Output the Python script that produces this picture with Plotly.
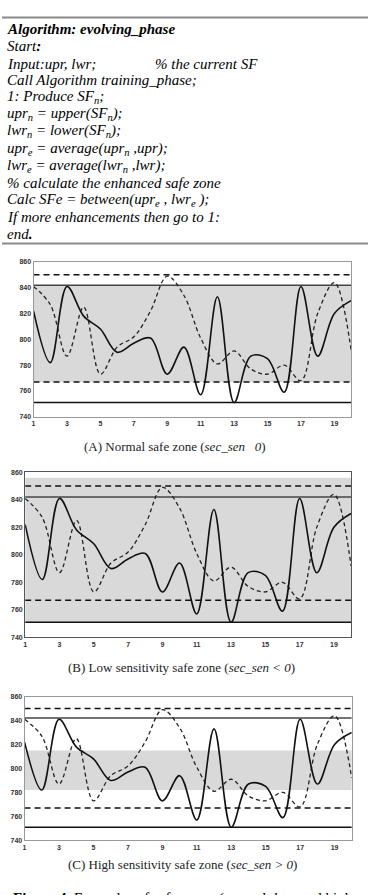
import plotly.graph_objects as go

# ---------------- data ----------------
x_vals = list(range(1, 21))
solid_series = [822, 782, 841, 818, 808, 790, 797, 801, 773, 794,
                757, 833, 751, 787, 785, 759, 841, 787, 820, 830]
dashed_series = [841, 827, 787, 825, 773, 794, 802, 822, 849, 834,
                 801, 781, 791, 777, 773, 780, 768, 820, 844, 792]
upper_solid = 842
lower_solid = 751
upper_dashed = 850
lower_dashed = 767
bands = [(767, 842), (751, 856), (782, 815)]
y_ticks = [740, 760, 780, 800, 820, 840, 860]
x_ticks = [1, 3, 5, 7, 9, 11, 13, 15, 17, 19]
captions = ["(A) Normal safe zone (<i>sec_sen \u00a0 0</i>)",
            "(B) Low sensitivity safe zone (<i>sec_sen &lt; 0</i>)",
            "(C) High sensitivity safe zone (<i>sec_sen &gt; 0</i>)"]
algo_lines = [
    "<b>Algorithm: evolving_phase</b>",
    "Start<b>:</b>",
    "Input:upr, lwr;",
    "Call Algorithm training_phase;",
    "1: Produce SF<sub>n</sub>;",
    "upr<sub>n</sub> = upper(SF<sub>n</sub>);",
    "lwr<sub>n</sub> = lower(SF<sub>n</sub>);",
    "upr<sub>e</sub> = average(upr<sub>n</sub> ,upr);",
    "lwr<sub>e</sub> = average(lwr<sub>n</sub> ,lwr);",
    "% calculate the enhanced safe zone",
    "Calc SFe = between(upr<sub>e</sub> , lwr<sub>e</sub> );",
    "If more enhancements then go to 1:",
    "end<b>.</b>",
]
algo_comment = "% the current SF"
fig_caption = "<b>Figure 4.</b> Examples of safe zones (normal, low and high"

SERIF = "Liberation Serif, Times New Roman, serif"
W, H = 368, 895
def px(x): return x / W
def py(y): return 1 - y / H

# plot boxes in pixels: left, right, top, bottom
boxes = [(31.7, 351, 260, 416), (23.3, 351, 472, 638.3), (22.7, 351.7, 698, 843)]
frame_colors = ["#999999", "#555555", "#999999"]
caption_pos = [(174, 446), (180, 669), (181, 867)]

fig = go.Figure()
layout = dict(width=W, height=H, margin=dict(l=0, r=0, t=0, b=0),
              paper_bgcolor="white", plot_bgcolor="white", showlegend=False)
shapes = []
annotations = []
tick_font = dict(family="Liberation Sans, Arial, sans-serif", size=7, color="#333333", weight="bold")

for i, (l, r, t, b) in enumerate(boxes):
    xa = "x" if i == 0 else f"x{i+1}"
    ya = "y" if i == 0 else f"y{i+1}"
    xk = "xaxis" if i == 0 else f"xaxis{i+1}"
    yk = "yaxis" if i == 0 else f"yaxis{i+1}"
    layout[xk] = dict(domain=[px(l), px(r)], range=[1, 20], anchor=ya,
                      tickvals=x_ticks, showgrid=False, zeroline=False,
                      showline=True, mirror=True, linecolor=frame_colors[i], linewidth=1,
                      ticks="", tickfont=tick_font)
    layout[yk] = dict(domain=[py(b), py(t)], range=[740, 860], anchor=xa,
                      tickvals=y_ticks, showgrid=False, zeroline=False,
                      showline=True, mirror=True, linecolor=frame_colors[i], linewidth=1,
                      ticks="", tickfont=tick_font)
    lo, hi = bands[i]
    shapes.append(dict(type="rect", xref=xa, yref=ya, x0=1, x1=20, y0=lo, y1=hi,
                       fillcolor="#d9d9d9", line=dict(width=0), layer="below"))
    # horizontal limits
    for val, dash, col in [(upper_dashed, "6px,4px", "#111111"),
                           (lower_dashed, "6px,4px", "#111111"),
                           (upper_solid, "solid", "#444444"),
                           (lower_solid, "solid", "#111111")]:
        fig.add_trace(go.Scatter(x=[x_vals[0], x_vals[-1]], y=[val, val], mode="lines",
                                 line=dict(color=col, width=1.5, dash=dash),
                                 xaxis=xa, yaxis=ya, hoverinfo="skip"))
    fig.add_trace(go.Scatter(x=x_vals, y=dashed_series, mode="lines",
                             line=dict(color="#222222", width=1.3, dash="4px,3px", shape="spline"),
                             xaxis=xa, yaxis=ya))
    fig.add_trace(go.Scatter(x=x_vals, y=solid_series, mode="lines",
                             line=dict(color="#111111", width=1.6, shape="spline"),
                             xaxis=xa, yaxis=ya))
    cx, cy = caption_pos[i]
    annotations.append(dict(text=captions[i], xref="paper", yref="paper", x=px(cx), y=py(cy),
                            xanchor="center", yanchor="middle", showarrow=False,
                            font=dict(family=SERIF, size=13, color="#222222")))

# algorithm box
line_y = [25, 42, 60, 77, 94, 111, 128, 146, 163, 180, 198, 215, 232]
for txt, yy in zip(algo_lines, line_y):
    annotations.append(dict(text=txt, xref="paper", yref="paper", x=px(3), y=py(yy),
                            xanchor="left", yanchor="middle", showarrow=False,
                            font=dict(family=SERIF, size=15, color="black", style="italic")))
annotations.append(dict(text=algo_comment, xref="paper", yref="paper", x=px(152), y=py(60),
                        xanchor="left", yanchor="middle", showarrow=False,
                        font=dict(family=SERIF, size=15, color="black", style="italic")))
annotations.append(dict(text=fig_caption, xref="paper", yref="paper", x=px(182), y=py(902),
                        xanchor="center", yanchor="middle", showarrow=False,
                        font=dict(family=SERIF, size=15, color="black")))

for yy in [13.5, 241.5]:
    shapes.append(dict(type="line", xref="paper", yref="paper", x0=0, x1=1, y0=py(yy), y1=py(yy),
                       line=dict(color="#8a8a8a", width=2)))

layout["shapes"] = shapes
layout["annotations"] = annotations
fig.update_layout(**layout)
fig.write_html("out.html")
